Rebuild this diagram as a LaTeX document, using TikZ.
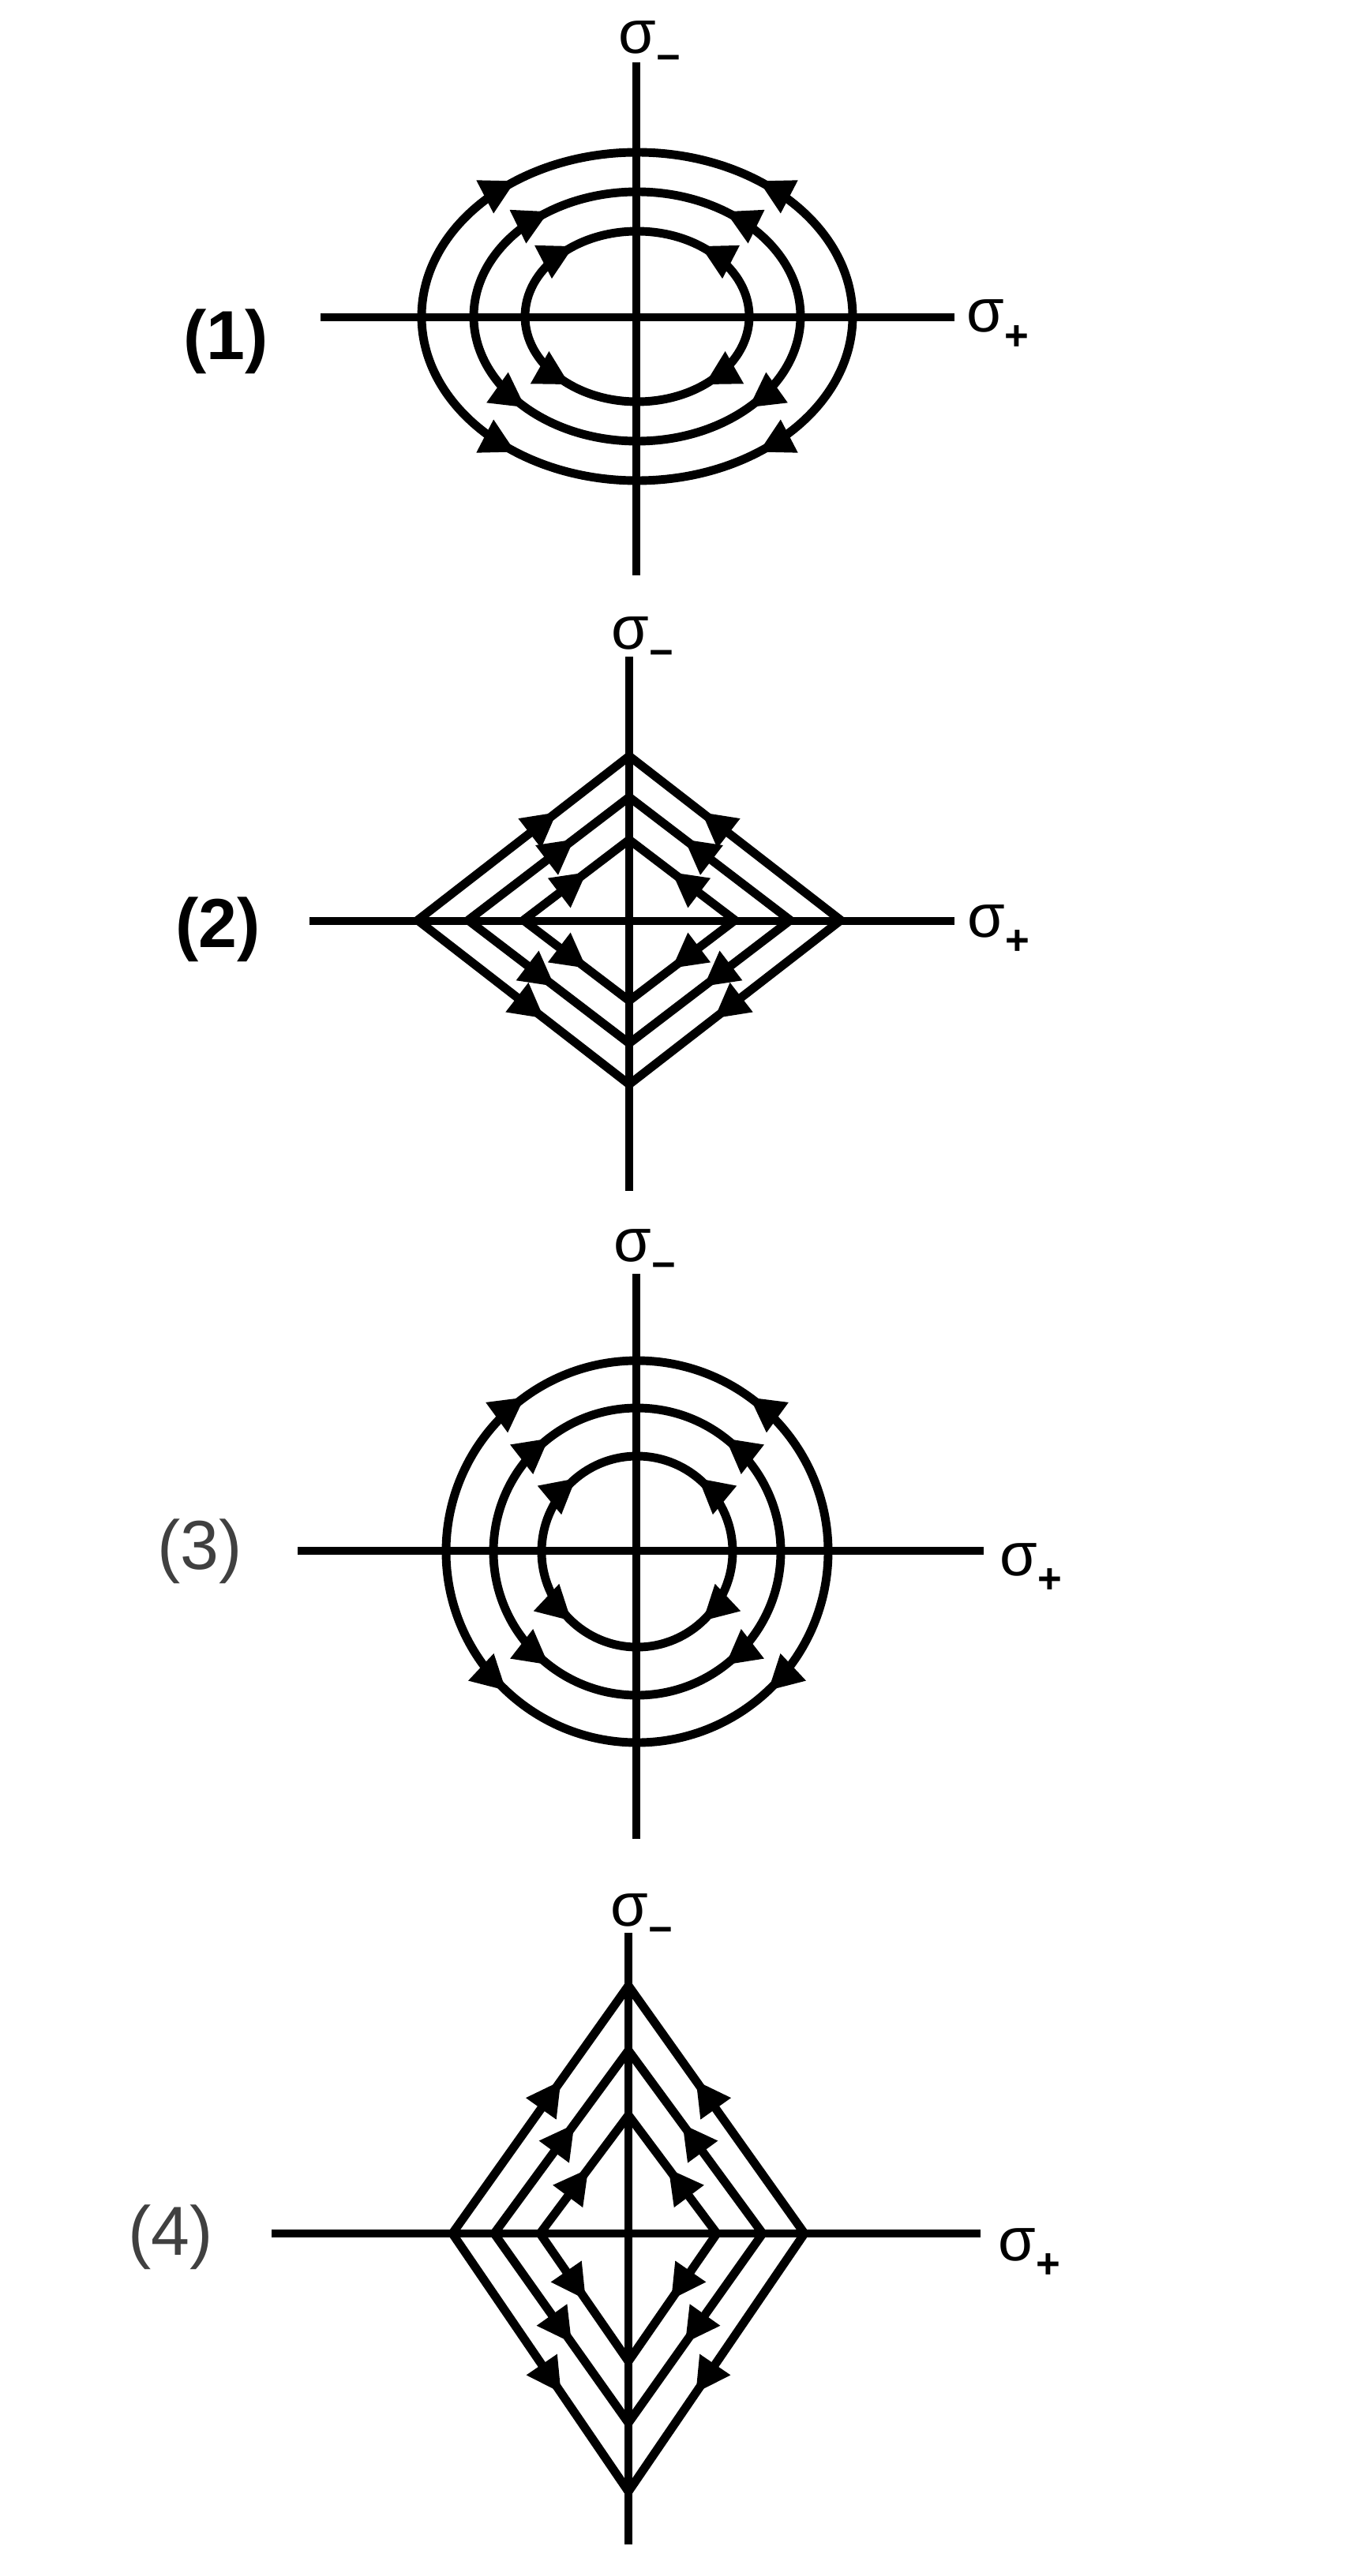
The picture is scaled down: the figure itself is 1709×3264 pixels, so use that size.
\documentclass[tikz,border=0pt]{standalone}
\usepackage{fontspec}
\setmainfont{Liberation Sans}
\usetikzlibrary{arrows.meta,decorations.markings}
\newcommand{\sgn}[1]{σ\raisebox{-0.55ex}{\fontsize{15}{15}\selectfont\textbf{#1}}}
\begin{document}
\begin{tikzpicture}[x=0.01cm,y=0.01cm,
  axis/.style={line width=2.7pt},
  curve/.style={line width=3.1pt,line cap=round},
  flow/.style={postaction={decorate},decoration={markings,mark=at position #1 with {\arrow{Triangle[length=4.4mm,width=4.4mm]}}}},
  lbl/.style={font=\fontsize{25}{30}\selectfont},
  sig/.style={font=\fontsize{22}{26}\selectfont,inner sep=0pt,anchor=base west}]
\useasboundingbox (0,0) rectangle (1709,-3264);
\draw[axis] (806,-79) -- (806,-729);
\draw[axis] (406,-402) -- (1209,-402);
\node[sig] (sm1) at (783,-68) {\sgn{−}};
\node[sig] (sp1) at (1224,-421) {\sgn{+}};
\node[lbl] (n1) at (286,-433) {\textbf{(1)}};
\foreach \a/\b/\pu/\pl in {273/208/0.58/0.58, 207/158/0.6/0.48, 142/108/0.58/0.55} {
  \draw[curve,flow=\pu] (807-\a,-401) arc[start angle=180,end angle=90,x radius=\a,y radius=\b];
  \draw[curve,flow=\pu] (807+\a,-401) arc[start angle=0,end angle=90,x radius=\a,y radius=\b];
  \draw[curve,flow=\pl] (807-\a,-401) arc[start angle=180,end angle=270,x radius=\a,y radius=\b];
  \draw[curve,flow=\pl] (807+\a,-401) arc[start angle=0,end angle=-90,x radius=\a,y radius=\b];
}
\draw[axis] (797,-832) -- (797,-1509);
\draw[axis] (392,-1167) -- (1209,-1167);
\node[sig] (sm2) at (774,-822) {\sgn{−}};
\node[sig] (sp2) at (1225,-1187) {\sgn{+}};
\node[lbl] (n2) at (276,-1178) {\textbf{(2)}};
\foreach \a/\b/\pu/\pl in {268/208/0.66/0.6, 204/156/0.66/0.54, 134/102/0.6/0.6} {
  \draw[curve,flow=\pu] (797-\a,-1166) -- (797,-1166+\b);
  \draw[curve,flow=\pu] (797+\a,-1166) -- (797,-1166+\b);
  \draw[curve,flow=\pl] (797-\a,-1166) -- (797,-1166-\b);
  \draw[curve,flow=\pl] (797+\a,-1166) -- (797,-1166-\b);
}
\draw[axis] (806,-1614) -- (806,-2330);
\draw[axis] (377,-1965) -- (1246,-1965);
\node[sig] (sm3) at (777,-1598) {\sgn{−}};
\node[sig] (sp3) at (1266,-1996) {\sgn{+}};
\node[lbl,text=black!75] (n3) at (253,-1966) {(3)};
\foreach \r/\pu/\pl in {242/0.6/0.52, 182/0.58/0.58, 121/0.56/0.52} {
  \draw[curve,flow=\pu] (807-\r,-1966) arc[start angle=180,end angle=90,radius=\r];
  \draw[curve,flow=\pu] (807+\r,-1966) arc[start angle=0,end angle=90,radius=\r];
  \draw[curve,flow=\pl] (807-\r,-1966) arc[start angle=180,end angle=270,radius=\r];
  \draw[curve,flow=\pl] (807+\r,-1966) arc[start angle=0,end angle=-90,radius=\r];
}
\draw[axis] (796,-2449) -- (796,-3224);
\draw[axis] (344,-2830) -- (1242,-2830);
\node[sig] (sm4) at (773,-2440) {\sgn{−}};
\node[sig] (sp4) at (1264,-2864) {\sgn{+}};
\node[lbl,text=black!75] (n4) at (216,-2835) {(4)};
\foreach \a/\t/\d/\pu/\pl in {223/314/327/0.62/0.62, 170/232/240/0.6/0.58, 112/150/162/0.55/0.52} {
  \draw[curve,flow=\pu] (796-\a,-2830) -- (796,-2830+\t);
  \draw[curve,flow=\pu] (796+\a,-2830) -- (796,-2830+\t);
  \draw[curve,flow=\pl] (796-\a,-2830) -- (796,-2830-\d);
  \draw[curve,flow=\pl] (796+\a,-2830) -- (796,-2830-\d);
}
\end{tikzpicture}
\end{document}
